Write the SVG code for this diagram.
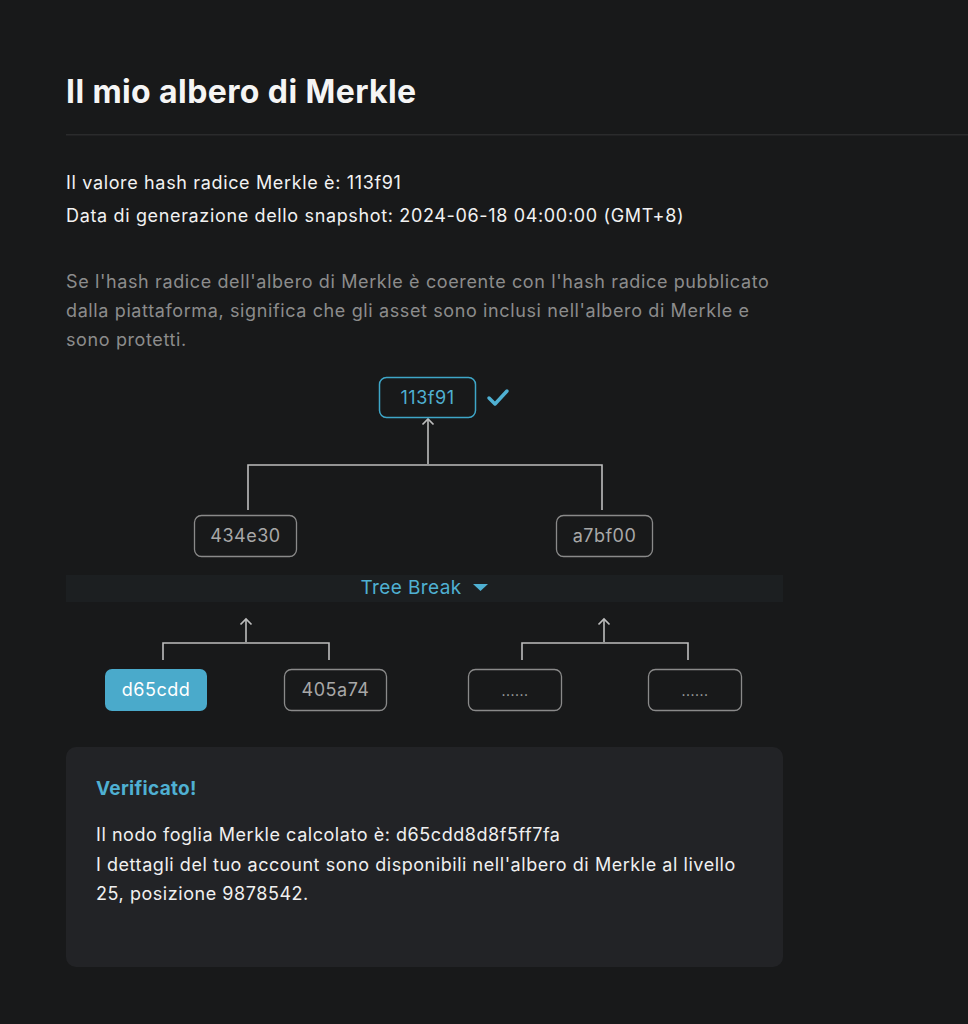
<svg xmlns="http://www.w3.org/2000/svg" width="968" height="1024" viewBox="0 0 968 1024">
<defs>
<style>
.t{font-family:Inter,"Noto Sans","Liberation Sans",sans-serif}
.title{font-size:32px;font-weight:700;fill:#f5f5f5;letter-spacing:0.4px}
.info{font-size:18px;fill:#f2f2f2;letter-spacing:0.65px}
.grey{font-size:18px;fill:#8c8c8c;letter-spacing:0.62px}
.node{fill:none;stroke:#8a8a8a;stroke-width:1.3}
.ntext{font-size:18px;fill:#a8a8a8;text-anchor:middle;letter-spacing:0.5px}
.blue{fill:#4fb0d2}
.conn{fill:none;stroke:#bdbdbd;stroke-width:1.6}
.body{font-size:18px;fill:#f0f0f0;letter-spacing:0.55px}
</style>
<marker id="ah" viewBox="0 0 14 14" refX="12" refY="7" markerWidth="14" markerHeight="14" markerUnits="userSpaceOnUse" orient="auto">
<path d="M6.5 1.5 L12 7 L6.5 12.5" fill="none" stroke="#bdbdbd" stroke-width="1.7"/>
</marker>
</defs>
<rect width="968" height="1024" fill="#18191a"/>
<text class="t title" x="66" y="103">Il mio albero di Merkle</text>
<rect x="66" y="134" width="902" height="1.5" fill="#2a2b2c"/>
<text class="t info" x="66" y="189">Il valore hash radice Merkle è: 113f91</text>
<text class="t info" x="66" y="222">Data di generazione dello snapshot: 2024-06-18 04:00:00 (GMT+8)</text>
<text class="t grey" x="66" y="288">Se l'hash radice dell'albero di Merkle è coerente con l'hash radice pubblicato</text>
<text class="t grey" x="66" y="317">dalla piattaforma, significa che gli asset sono inclusi nell'albero di Merkle e</text>
<text class="t grey" x="66" y="346">sono protetti.</text>

<rect x="66" y="575" width="717" height="27" fill="#1c1f21"/>

<g id="connectors">
<path class="conn" d="M428 464 V419" marker-end="url(#ah)"/>
<path class="conn" d="M248 510 V465 H602 V510"/>
<path class="conn" d="M246 642 V619" marker-end="url(#ah)"/>
<path class="conn" d="M163 660 V643 H329 V660"/>
<path class="conn" d="M604 642 V619" marker-end="url(#ah)"/>
<path class="conn" d="M522 660 V643 H688 V660"/>
</g>

<g id="root">
<rect x="379.5" y="377.5" width="96" height="40" rx="7" fill="none" stroke="#3ea6c8" stroke-width="1.5"/>
<text class="t ntext blue" x="427.5" y="404" style="fill:#4fb0d2">113f91</text>
<path d="M489 398 L495 404 L507 391" fill="none" stroke="#4fb0d2" stroke-width="3.5" stroke-linecap="round" stroke-linejoin="round"/>
</g>
<g id="n434e30">
<rect class="node" x="194.5" y="515.5" width="102" height="41" rx="7"/>
<text class="t ntext" x="245.5" y="542">434e30</text>
</g>
<g id="na7bf00">
<rect class="node" x="556.5" y="515.5" width="96" height="41" rx="7"/>
<text class="t ntext" x="604.5" y="542">a7bf00</text>
</g>
<g id="treebreak">
<text class="t blue" x="411" y="594" font-size="19" letter-spacing="0.4" text-anchor="middle">Tree Break</text>
<path d="M473 584 H488 L480.5 591 Z" fill="#4fb0d2"/>
</g>
<g id="nd65cdd">
<rect x="105" y="669" width="102" height="42" rx="7" fill="#4aaacb"/>
<text class="t ntext" x="156" y="696" style="fill:#ffffff">d65cdd</text>
</g>
<g id="n405a74">
<rect class="node" x="284.5" y="669.5" width="102" height="41" rx="7"/>
<text class="t ntext" x="335.5" y="696">405a74</text>
</g>
<g id="ndots1">
<rect class="node" x="468.5" y="669.5" width="93" height="41" rx="7"/>
<text class="t ntext" x="515" y="696" style="font-size:14px">......</text>
</g>
<g id="ndots2">
<rect class="node" x="648.5" y="669.5" width="93" height="41" rx="7"/>
<text class="t ntext" x="695" y="696" style="font-size:14px">......</text>
</g>

<g id="card">
<rect x="66" y="747" width="717" height="220" rx="10" fill="#222326"/>
<text class="t blue" x="96" y="795" font-size="19" font-weight="700" letter-spacing="0.3">Verificato!</text>
<text class="t body" x="96" y="841">Il nodo foglia Merkle calcolato è: d65cdd8d8f5ff7fa</text>
<text class="t body" x="96" y="871">I dettagli del tuo account sono disponibili nell'albero di Merkle al livello</text>
<text class="t body" x="96" y="900">25, posizione 9878542.</text>
</g>
</svg>
